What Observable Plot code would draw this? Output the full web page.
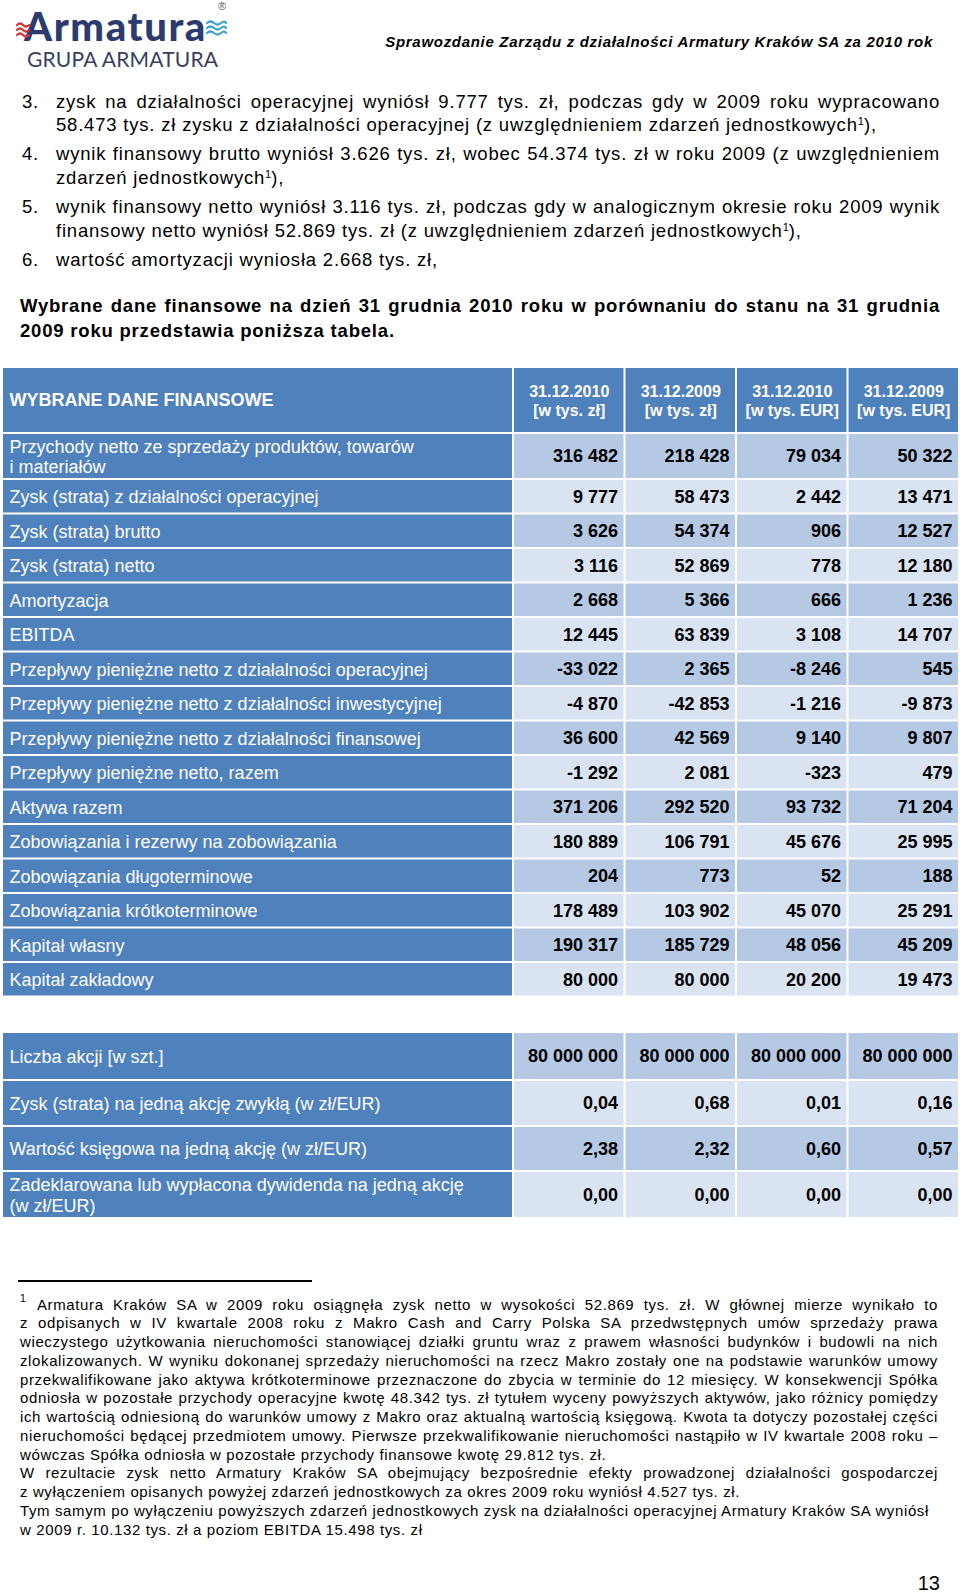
<!DOCTYPE html>
<html lang="pl">
<head>
<meta charset="utf-8">
<title>Wybrane dane finansowe – Armatura Kraków SA</title>
<script src="https://cdn.jsdelivr.net/npm/d3@7"></script>
<script src="https://cdn.jsdelivr.net/npm/@observablehq/plot@0.6"></script>
<style>
html,body{margin:0;padding:0;background:#fff;}
#page{position:relative;width:960px;height:1594px;overflow:hidden;font-family:"Liberation Sans",Arial,sans-serif;color:#000;}
.abs{position:absolute;white-space:nowrap;}
.j{text-align:justify;text-align-last:justify;}
.b18{font-size:18.5px;line-height:22px;letter-spacing:0.8px;}
.fn{font-size:15px;line-height:18.75px;letter-spacing:0.62px;}
sup{font-size:0.6em;line-height:0;vertical-align:0.55em;letter-spacing:0;}
#chart{position:absolute;left:0;top:360px;}
#logo-word{position:absolute;left:24px;top:8px;font-family:Lato,"Open Sans",sans-serif;font-weight:900;font-size:40px;line-height:36px;height:36px;color:#2c3a70;letter-spacing:1.6px;}
#logo-sub{position:absolute;left:27px;top:48px;font-family:Lato,"Open Sans",sans-serif;font-weight:400;font-size:21px;line-height:22px;color:#363f62;letter-spacing:0.2px;}
#reg{position:absolute;left:218px;top:0px;font-family:"Liberation Sans",Arial,sans-serif;font-size:11px;line-height:12px;color:#555;}
#heading{position:absolute;left:300px;top:33px;width:633px;text-align:right;font-family:"Liberation Sans",Arial,sans-serif;font-style:italic;font-weight:bold;font-size:15px;line-height:18px;letter-spacing:0.7px;}
</style>
</head>
<body>
<div id="page">
  <!-- header -->
  <div id="logo-word">Armatura</div>
  <svg class="abs" style="left:0;top:0" width="240" height="46" aria-hidden="true">
    <g fill="none" stroke="#d4373a" stroke-width="2.2" stroke-linecap="round">
      <path d="M17,25 q3,-3 6,0 t6,0"/>
      <path d="M17,30 q3,-3 6,0 t6,0"/>
      <path d="M17,35 q3,-3 6,0 t6,0"/>
    </g>
    <g fill="none" stroke="#3b9fd6" stroke-width="2.2" stroke-linecap="round">
      <path d="M207,23 q3.5,-3 7,0 t7,0 t5,0"/>
      <path d="M207,28 q3.5,-3 7,0 t7,0 t5,0"/>
      <path d="M207,33 q3.5,-3 7,0 t7,0 t5,0"/>
    </g>
  </svg>
  <div id="reg">®</div>
  <div id="logo-sub">GRUPA ARMATURA</div>
  <div id="heading">Sprawozdanie Zarządu z działalności Armatury Kraków SA za 2010 rok</div>

  <!-- body text -->
  <div class="abs b18" style="left:22px;top:91px">3.</div>
  <div class="abs b18 j" style="left:56px;top:91px;width:884px">zysk na działalności operacyjnej wyniósł 9.777 tys. zł, podczas gdy w 2009 roku wypracowano</div>
  <div class="abs b18" style="left:56px;top:113.5px">58.473 tys. zł zysku z działalności operacyjnej (z uwzględnieniem zdarzeń jednostkowych<sup>1</sup>),</div>

  <div class="abs b18" style="left:22px;top:143px">4.</div>
  <div class="abs b18 j" style="left:56px;top:143px;width:884px">wynik finansowy brutto wyniósł 3.626 tys. zł, wobec 54.374 tys. zł w roku 2009 (z uwzględnieniem</div>
  <div class="abs b18" style="left:56px;top:166.5px">zdarzeń jednostkowych<sup>1</sup>),</div>

  <div class="abs b18" style="left:22px;top:196px">5.</div>
  <div class="abs b18 j" style="left:56px;top:196px;width:884px">wynik finansowy netto wyniósł 3.116 tys. zł, podczas gdy w analogicznym okresie roku 2009 wynik</div>
  <div class="abs b18" style="left:56px;top:219.5px">finansowy netto wyniósł 52.869 tys. zł (z uwzględnieniem zdarzeń jednostkowych<sup>1</sup>),</div>

  <div class="abs b18" style="left:22px;top:249px">6.</div>
  <div class="abs b18" style="left:56px;top:249px">wartość amortyzacji wyniosła 2.668 tys. zł,</div>

  <div class="abs b18 j" style="left:20px;top:295px;width:920px;font-weight:bold">Wybrane dane finansowe na dzień 31 grudnia 2010 roku w porównaniu do stanu na 31 grudnia</div>
  <div class="abs b18" style="left:20px;top:319.5px;font-weight:bold">2009 roku przedstawia poniższa tabela.</div>

  <!-- chart (tables) -->
  <div id="chart"></div>

  <!-- footnote -->
  <div class="abs" style="left:18px;top:1280px;width:294px;height:2px;background:#000"></div>
  <div class="abs" style="left:20px;top:1292px;font-size:10.5px;line-height:12px">1</div>
  <div id="footnote"></div>

  <div class="abs" style="left:880px;top:1571px;width:60px;text-align:right;font-size:20px;line-height:24px">13</div>
</div>

<script>
// ---------------- DATA ----------------
const headerTitle = "WYBRANE DANE FINANSOWE";
const periodLabels = [
  "31.12.2010\n[w tys. zł]",
  "31.12.2009\n[w tys. zł]",
  "31.12.2010\n[w tys. EUR]",
  "31.12.2009\n[w tys. EUR]"
];
const itemLabels = [
  "Przychody netto ze sprzedaży produktów, towarów\ni materiałów",
  "Zysk (strata) z działalności operacyjnej",
  "Zysk (strata) brutto",
  "Zysk (strata) netto",
  "Amortyzacja",
  "EBITDA",
  "Przepływy pieniężne netto z działalności operacyjnej",
  "Przepływy pieniężne netto z działalności inwestycyjnej",
  "Przepływy pieniężne netto z działalności finansowej",
  "Przepływy pieniężne netto, razem",
  "Aktywa razem",
  "Zobowiązania i rezerwy na zobowiązania",
  "Zobowiązania długoterminowe",
  "Zobowiązania krótkoterminowe",
  "Kapitał własny",
  "Kapitał zakładowy"
];
const pln2010 = [316482, 9777, 3626, 3116, 2668, 12445, -33022, -4870, 36600, -1292, 371206, 180889, 204, 178489, 190317, 80000];
const pln2009 = [218428, 58473, 54374, 52869, 5366, 63839, 2365, -42853, 42569, 2081, 292520, 106791, 773, 103902, 185729, 80000];
const eur2010 = [79034, 2442, 906, 778, 666, 3108, -8246, -1216, 9140, -323, 93732, 45676, 52, 45070, 48056, 20200];
const eur2009 = [50322, 13471, 12527, 12180, 1236, 14707, 545, -9873, 9807, 479, 71204, 25995, 188, 25291, 45209, 19473];

const shareLabels = [
  "Liczba akcji [w szt.]",
  "Zysk (strata) na jedną akcję zwykłą (w zł/EUR)",
  "Wartość księgowa na jedną akcję (w zł/EUR)",
  "Zadeklarowana lub wypłacona dywidenda na jedną akcję\n(w zł/EUR)"
];
const sharePln2010 = [80000000, 0.04, 2.38, 0.00];
const sharePln2009 = [80000000, 0.68, 2.32, 0.00];
const shareEur2010 = [80000000, 0.01, 0.60, 0.00];
const shareEur2009 = [80000000, 0.16, 0.57, 0.00];
const shareIsCount = [true, false, false, false];

const footnoteLines = [
  "Armatura Kraków SA w 2009 roku osiągnęła zysk netto w wysokości 52.869 tys. zł. W głównej mierze wynikało to",
  "z odpisanych w IV kwartale 2008 roku z Makro Cash and Carry Polska SA przedwstępnych umów sprzedaży prawa",
  "wieczystego użytkowania nieruchomości stanowiącej działki gruntu wraz z prawem własności budynków i budowli na nich",
  "zlokalizowanych. W wyniku dokonanej sprzedaży nieruchomości na rzecz Makro zostały one na podstawie warunków umowy",
  "przekwalifikowane jako aktywa krótkoterminowe przeznaczone do zbycia w terminie do 12 miesięcy. W konsekwencji Spółka",
  "odniosła w pozostałe przychody operacyjne kwotę 48.342 tys. zł tytułem wyceny powyższych aktywów, jako różnicy pomiędzy",
  "ich wartością odniesioną do warunków umowy z Makro oraz aktualną wartością księgową. Kwota ta dotyczy pozostałej części",
  "nieruchomości będącej przedmiotem umowy. Pierwsze przekwalifikowanie nieruchomości nastąpiło w IV kwartale 2008 roku –",
  "wówczas Spółka odniosła w pozostałe przychody finansowe kwotę 29.812 tys. zł.",
  "W rezultacie zysk netto Armatury Kraków SA obejmujący bezpośrednie efekty prowadzonej działalności gospodarczej",
  "z wyłączeniem opisanych powyżej zdarzeń jednostkowych za okres 2009 roku wyniósł 4.527 tys. zł.",
  "Tym samym po wyłączeniu powyższych zdarzeń jednostkowych zysk na działalności operacyjnej Armatury Kraków SA wyniósł",
  "w 2009 r. 10.132 tys. zł a poziom EBITDA 15.498 tys. zł"
];
const footnoteJustified = [true, true, true, true, true, true, true, true, false, true, false, false, false];

// ---------------- LAYOUT (sizes / styles) ----------------
const svgTop = 360, svgH = 870;
const colWidths = [509, 109.5, 109.5, 109.5, 109.5];
const colGap = 2, tableLeft = 3;
const table1Top = 368, headerH = 64, rowGap = 2;
const table1RowHs = itemLabels.map((d, i) => i === 0 ? 44 : 32.5);
const table2Top = 1033;
const table2RowHs = [46, 44, 43, 45];
const cBlue = "#4f81bd", cDark = "#b5c9e4", cLight = "#d9e3f1";
const font = "'Liberation Sans', Arial, sans-serif";

// column edges
const colEdges = [];
{ let x = tableLeft; for (const w of colWidths) { colEdges.push([x, x + w]); x += w + colGap; } }

// number formatting (Polish)
const pl = d3.formatLocale({decimal: ",", thousands: " ", grouping: [3], currency: ["", " zł"], minus: "-"});
const fmtInt = pl.format(",d");
const fmtDec = pl.format(",.2f");

// ---------------- CELLS ----------------
const rects = [], labelTexts = [], valueTexts = [], headTexts = [];
function rowsFrom(top, heights) {
  const out = []; let y = top;
  for (const h of heights) { out.push([y, y + h]); y += h + rowGap; }
  return out;
}
// header row
{
  const y1 = table1Top, y2 = table1Top + headerH;
  colEdges.forEach(([x1, x2], c) => {
    rects.push({x1, x2, y1, y2, fill: cBlue});
    if (c === 0) labelTexts.push({x: x1, y: (y1 + y2) / 2, text: headerTitle, bold: true});
    else headTexts.push({x: (x1 + x2) / 2, y: (y1 + y2) / 2, text: periodLabels[c - 1]});
  });
}
// table 1 rows
const t1Rows = rowsFrom(table1Top + headerH + rowGap, table1RowHs);
const t1Series = [pln2010, pln2009, eur2010, eur2009];
itemLabels.forEach((label, i) => {
  const [y1, y2] = t1Rows[i];
  colEdges.forEach(([x1, x2], c) => {
    rects.push({x1, x2, y1, y2, fill: c === 0 ? cBlue : (i % 2 === 0 ? cDark : cLight)});
    if (c === 0) labelTexts.push({x: x1, y: (y1 + y2) / 2, text: label, bold: false});
    else valueTexts.push({x: x2, y: (y1 + y2) / 2, text: fmtInt(t1Series[c - 1][i])});
  });
});
// table 2 rows
const t2Rows = rowsFrom(table2Top, table2RowHs);
const t2Series = [sharePln2010, sharePln2009, shareEur2010, shareEur2009];
shareLabels.forEach((label, i) => {
  const [y1, y2] = t2Rows[i];
  colEdges.forEach(([x1, x2], c) => {
    rects.push({x1, x2, y1, y2, fill: c === 0 ? cBlue : (i % 2 === 0 ? cDark : cLight)});
    if (c === 0) labelTexts.push({x: x1, y: (y1 + y2) / 2, text: label, bold: false});
    else valueTexts.push({x: x2, y: (y1 + y2) / 2, text: (shareIsCount[i] ? fmtInt : fmtDec)(t2Series[c - 1][i])});
  });
});

const chart = Plot.plot({
  width: 960,
  height: svgH,
  margin: 0,
  style: {background: "white", fontFamily: font},
  x: {type: "linear", domain: [0, 960], range: [0, 960], axis: null},
  y: {type: "linear", domain: [svgTop, svgTop + svgH], range: [0, svgH], axis: null},
  color: {type: "identity"},
  marks: [
    Plot.rect(rects, {x1: "x1", x2: "x2", y1: "y1", y2: "y2", fill: "fill"}),
    Plot.text(labelTexts.filter(d => !d.bold), {x: "x", y: "y", text: "text", textAnchor: "start", dx: 6, fill: "white", fontSize: 18, fontFamily: font, lineHeight: 1.12}),
    Plot.text(labelTexts.filter(d => d.bold), {x: "x", y: "y", text: "text", textAnchor: "start", dx: 6, fill: "white", fontSize: 18, fontWeight: "bold", fontFamily: font}),
    Plot.text(headTexts, {x: "x", y: "y", text: "text", textAnchor: "middle", fill: "white", fontSize: 16, fontWeight: "bold", fontFamily: font, lineHeight: 1.2}),
    Plot.text(valueTexts, {x: "x", y: "y", text: "text", textAnchor: "end", dx: -6, fill: "black", fontSize: 18, fontWeight: "bold", fontFamily: font})
  ]
});
document.getElementById("chart").appendChild(chart);

// footnote text
const fnBox = document.getElementById("footnote");
footnoteLines.forEach((t, k) => {
  const div = document.createElement("div");
  div.className = "abs fn" + (footnoteJustified[k] ? " j" : "");
  const left = k === 0 ? 37 : 20;
  div.style.left = left + "px";
  div.style.top = (1295.5 + k * 18.75) + "px";
  if (footnoteJustified[k]) div.style.width = (938 - left) + "px";
  div.textContent = t;
  fnBox.appendChild(div);
});
</script>
</body>
</html>
